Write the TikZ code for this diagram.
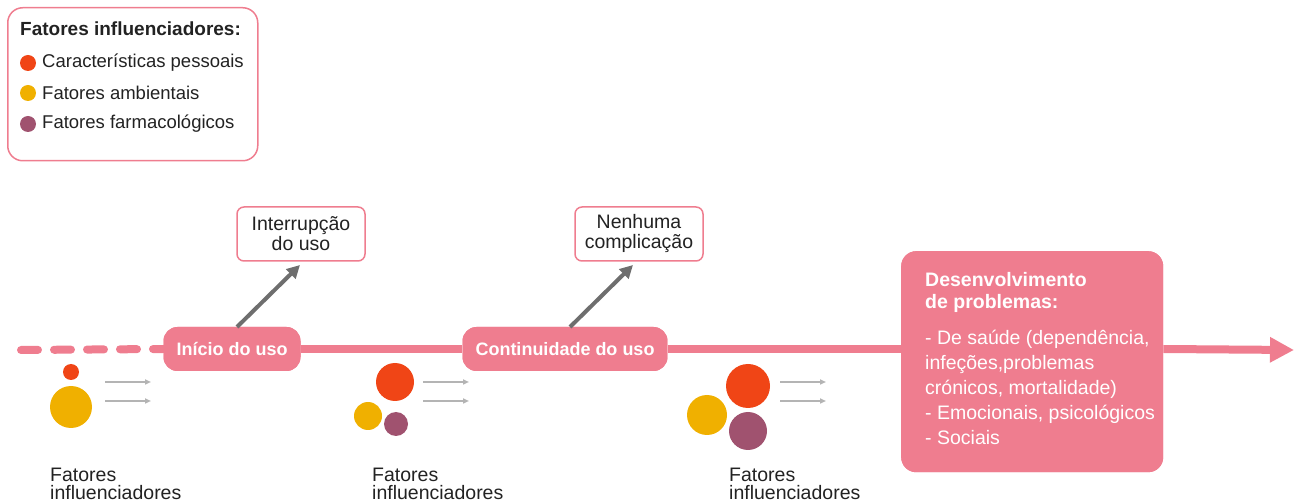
\documentclass[tikz,border=0pt]{standalone}
\usepackage{fontspec}
\setmainfont{Liberation Sans}
\usetikzlibrary{arrows.meta}
\usetikzlibrary{positioning}
\definecolor{rosa}{HTML}{EF7D8F}
\definecolor{laranja}{HTML}{F04516}
\definecolor{amarelo}{HTML}{F0B000}
\definecolor{roxo}{HTML}{A0526F}
\definecolor{texto}{HTML}{222222}
\definecolor{cinza}{HTML}{6E6E6E}
\definecolor{cinzaclaro}{HTML}{B4B4B4}

\begin{document}
\begin{tikzpicture}[x=1pt,y=-1pt,
	font=\fontsize{18.5}{21}\selectfont, text=texto,
	etapa/.style={fill=rosa, rounded corners=14pt, text=white, font=\fontsize{18}{20}\selectfont\bfseries, minimum height=44pt, inner xsep=13pt},
	caixaProb/.style={fill=rosa, rounded corners=15pt, minimum width=262pt, minimum height=221pt, anchor=north west},
	desfecho/.style={draw=rosa, line width=1.5pt, fill=white, rounded corners=7pt, align=center, minimum width=128pt, minimum height=54pt, inner sep=2pt, font=\fontsize{19.5}{20}\selectfont},
	bola/.style={circle, inner sep=0pt, minimum size=#1},
	fator/.style={align=left, anchor=west, inner sep=0pt, font=\fontsize{19.5}{18}\selectfont},
	seta/.style={-{Triangle[length=13pt,width=13pt]}, line width=4pt, cinza},
	setinha/.style={-{Triangle[length=6pt,width=5pt]}, line width=1.5pt, cinzaclaro}]
	\useasboundingbox (0,0) rectangle (1294,502);
	% legenda
	\node[draw=rosa, line width=1.5pt, rounded corners=15pt, minimum width=250pt, minimum height=153pt, anchor=north west] (legenda) at (7,7) {};
	\node[anchor=west, inner sep=0pt, font=\fontsize{19}{21}\selectfont\bfseries] (tituloLeg) at (20,29) {Fatores influenciadores:};
	\node[bola=16pt, fill=laranja] (legA) at (28,63) {};
	\node[bola=16pt, fill=amarelo] (legB) at (28,93) {};
	\node[bola=16pt, fill=roxo] (legC) at (28,124) {};
	\node[anchor=west, inner sep=0pt] at (42,63) {Características pessoais};
	\node[anchor=west, inner sep=0pt] at (42,93) {Fatores ambientais};
	\node[anchor=west, inner sep=0pt] at (42,124) {Fatores farmacológicos};
	% linha do tempo
	\coordinate (inicioLinha) at (21,350);
	\coordinate (fimLinha) at (1294,350);
	\node[etapa] (inicio) at (232,349) {Início do uso};
	\node[etapa] (continuidade) at (565,349) {Continuidade do uso};
	\node[caixaProb] (problemas) at (901,251) {};
	\draw[rosa, line width=8pt, line cap=round, dash pattern=on 17pt off 16pt] (inicioLinha) -- (inicio.west);
	\draw[rosa, line width=8pt] (inicio) -- (continuidade);
	\draw[rosa, line width=8pt] (continuidade) -- (problemas.west |- continuidade);
	\draw[rosa, line width=8pt, -{Triangle[length=24pt,width=24pt]}] (problemas.east |- continuidade) -- (fimLinha);
	\node[etapa] at (inicio) {Início do uso};
	\node[etapa] at (continuidade) {Continuidade do uso};
	\node[caixaProb] at (901,251) {};
	\node[anchor=north west, align=left, text=white, inner sep=0pt, font=\fontsize{19.5}{25}\selectfont] (textoProblemas) at (925,272)
		{\textbf{Desenvolvimento}\\[-3pt]\textbf{de problemas:}\\[11pt]
		- De saúde (dependência,\\ infeções,problemas\\ crónicos, mortalidade)\\ - Emocionais, psicológicos\\ - Sociais};
	% desfechos
	\node[desfecho] (interrupcao) at (301,234) {Interrupção\\do uso};
	\node[desfecho] (nenhuma) at (639,234) {Nenhuma\\complicação};
	\draw[seta] (237,327) -- (300,265);
	\draw[seta] (570,327) -- (633,265);
	% fatores influenciadores
	\node[bola=16pt, fill=laranja] (f1a) at (71,372) {};
	\node[bola=42pt, fill=amarelo] (f1b) at (71,407) {};
	\node[bola=38pt, fill=laranja] (f2a) at (395,382) {};
	\node[bola=28pt, fill=amarelo] (f2b) at (368,416) {};
	\node[bola=24pt, fill=roxo] (f2c) at (396,424) {};
	\node[bola=44pt, fill=laranja] (f3a) at (748,386) {};
	\node[bola=40pt, fill=amarelo] (f3b) at (707,415) {};
	\node[bola=38pt, fill=roxo] (f3c) at (748,431) {};
	\foreach \x in {105,423,780}{
		\draw[setinha] (\x,382) -- (\x+46,382);
		\draw[setinha] (\x,401) -- (\x+46,401);
	}
	\node[fator] (rotulo1) at (50,484) {Fatores\\influenciadores};
	\node[fator] (rotulo2) at (372,484) {Fatores\\influenciadores};
	\node[fator] (rotulo3) at (729,484) {Fatores\\influenciadores};
\end{tikzpicture}
\end{document}
